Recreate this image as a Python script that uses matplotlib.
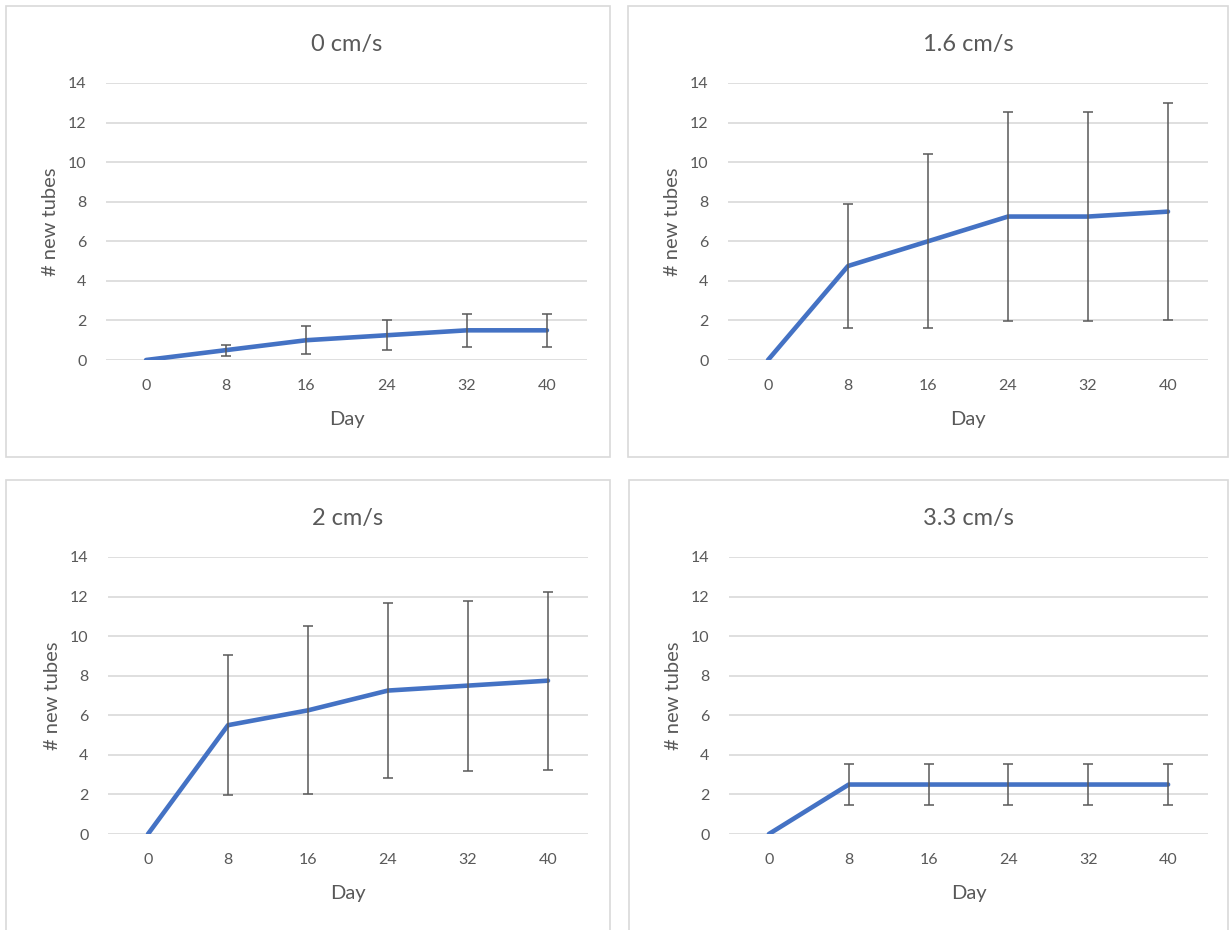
import matplotlib
matplotlib.use('Agg')
import matplotlib.pyplot as plt
from matplotlib.patches import Rectangle

# data
days = ['0', '8', '16', '24', '32', '40']
titles = ['0 cm/s', '1.6 cm/s', '2 cm/s', '3.3 cm/s']

tubes_0 = [0, 0.5, 1.0, 1.25, 1.5, 1.5]
err_0 = [None, 0.28, 0.7, 0.75, 0.85, 0.85]

tubes_16 = [0, 4.75, 6.0, 7.25, 7.25, 7.5]
err_16 = [None, 3.15, 4.4, 5.3, 5.3, 5.5]

tubes_2 = [0, 5.5, 6.25, 7.25, 7.5, 7.75]
err_2 = [None, 3.55, 4.25, 4.4, 4.3, 4.5]

tubes_33 = [0, 2.5, 2.5, 2.5, 2.5, 2.5]
err_33 = [None, 1.03, 1.03, 1.03, 1.03, 1.03]

series = [tubes_0, tubes_16, tubes_2, tubes_33]
errors = [err_0, err_16, err_2, err_33]
yticks = [0, 2, 4, 6, 8, 10, 12, 14]

W, H = 1230, 930
BLUE = '#4472C4'
TXT = '#595959'
GRID = '#D9D9D9'

plt.rcParams['font.family'] = ['Lato', 'DejaVu Sans']

fig = plt.figure(figsize=(W / 100, H / 100), dpi=100)

# pixel boxes: (x0, y0, x1, y1) from top-left
plot_boxes = [(106, 83, 587, 360), (728, 83, 1208, 360),
              (108, 557, 588, 834), (729, 557, 1208, 834)]
frames = [(6, 6, 610, 457), (628, 6, 1228, 457),
          (6, 480, 610, 935), (629, 480, 1228, 935)]

for fx0, fy0, fx1, fy1 in frames:
    fig.add_artist(Rectangle((fx0 / W, 1 - fy1 / H), (fx1 - fx0) / W, (fy1 - fy0) / H,
                             transform=fig.transFigure, fill=False,
                             edgecolor=GRID, linewidth=1.2))

for i in range(4):
    x0, y0, x1, y1 = plot_boxes[i]
    ax = fig.add_axes([x0 / W, 1 - y1 / H, (x1 - x0) / W, (y1 - y0) / H])
    xs = list(range(len(days)))
    y = series[i]
    e = [0 if v is None else v for v in errors[i]]

    ax.plot(xs, y, color=BLUE, linewidth=3.3, solid_capstyle='round', zorder=3)
    ax.errorbar(xs[1:], y[1:], yerr=e[1:], fmt='none', ecolor=TXT,
                elinewidth=1.1, capsize=3.5, capthick=1.1, zorder=4)

    ax.set_xlim(-0.5, len(days) - 0.5)
    ax.set_ylim(0, 14)
    ax.set_yticks(yticks)
    ax.set_xticks(xs)
    ax.set_xticklabels(days)
    ax.grid(axis='y', color=GRID, linewidth=1.2)
    ax.set_axisbelow(True)
    for s in ax.spines.values():
        s.set_visible(False)
    ax.tick_params(axis='both', length=0, labelsize=11.5, colors=TXT)
    ax.tick_params(axis='y', pad=14)
    ax.tick_params(axis='x', pad=14)

    ax.set_title(titles[i], fontsize=17, color=TXT, y=1.085)
    ax.set_xlabel('Day', fontsize=14.5, color=TXT)
    ax.set_ylabel('# new tubes', fontsize=14.5, color=TXT)
    ax.xaxis.set_label_coords(0.5, -0.185)
    ax.yaxis.set_label_coords(-0.098, 0.5)

fig.savefig('out.png', dpi=100)
